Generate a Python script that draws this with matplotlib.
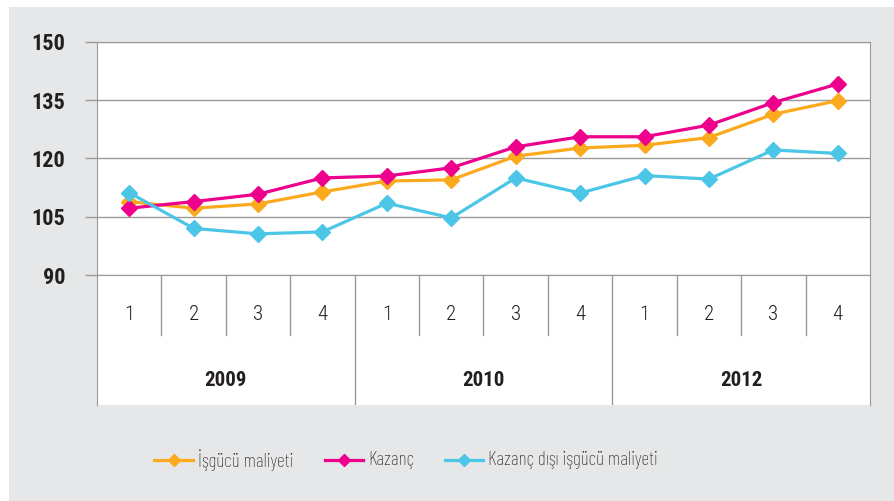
import matplotlib
matplotlib.use("Agg")
import matplotlib.pyplot as plt
from matplotlib import font_manager
from matplotlib.lines import Line2D

# === DATA ===
quarters = ["1", "2", "3", "4"] * 3
years = ["2009", "2010", "2012"]
labour_cost = [108.9, 107.2, 108.3, 111.4, 114.2, 114.5, 120.6, 122.7, 123.4, 125.4, 131.4, 134.9]
earnings = [107.2, 108.9, 110.8, 115.0, 115.5, 117.6, 123.0, 125.6, 125.6, 128.6, 134.4, 139.2]
non_earnings = [111.2, 102.0, 100.6, 101.1, 108.5, 104.7, 115.0, 111.1, 115.6, 114.7, 122.2, 121.3]
series_names = ["İşgücü maliyeti", "Kazanç", "Kazanç dışı işgücü maliyeti"]

# === STYLE ===
BG = "#e6e7e8"
GRID = "#9a9a9a"
TXT = "#231f20"
COLORS = ["#fba91d", "#ec008c", "#4cc6e6"]

# pick a condensed font (Helvetica Condensed look-alike)
have = {f.name for f in font_manager.fontManager.ttflist}
prefs = ["Roboto Condensed", "Fira Sans Condensed", "PT Sans Narrow",
         "Liberation Sans Narrow", "Archivo Narrow", "Asap Condensed"]
FONT = [p for p in prefs if p in have][:1] + ["DejaVu Sans"]
plt.rcParams["font.family"] = FONT
# narrower face for the legend
LEG_FONT = [p for p in ["Barlow Condensed"] if p in have] + FONT

W, H = 894, 501
fig = plt.figure(figsize=(W / 100, H / 100), dpi=100, facecolor="white")

# gray panel
panel = fig.add_axes([9 / W, 0, 1 - 9 / W, 1 - 7 / H])
panel.set_facecolor(BG)
panel.set_xticks([])
panel.set_yticks([])
for s in panel.spines.values():
    s.set_visible(False)

x0, x1 = 97 / W, 870 / W
n = len(quarters)

# === CATEGORY TABLE ===
tab = fig.add_axes([x0, 1 - 405 / H, x1 - x0, (405 - 275) / H])
tab.set_xlim(-0.5, n - 0.5)
tab.set_ylim(0, 130)
tab.set_xticks([])
tab.set_yticks([])
tab.set_facecolor("white")
for k in ["top", "bottom"]:
    tab.spines[k].set_visible(False)
for k in ["left", "right"]:
    tab.spines[k].set_color(GRID)
for i in range(1, n):
    top = 0 if i % 4 == 0 else 70
    tab.plot([i - 0.5, i - 0.5], [top, 130], color=GRID, linewidth=1)
for i, q in enumerate(quarters):
    tab.text(i, 90, q, ha="center", va="center", fontsize=15, color=TXT,
             fontweight="light")
for j, y in enumerate(years):
    tab.text(4 * j + 1.5, 25, y, ha="center", va="center", fontsize=15,
             fontweight="bold", color=TXT)

# === LINES ===
ax = fig.add_axes([x0, 1 - 275 / H, x1 - x0, (275 - 42) / H])
ax.set_zorder(3)
ax.set_facecolor("white")
ax.set_xlim(-0.5, n - 0.5)
ax.set_ylim(90, 150)
ax.set_yticks([90, 105, 120, 135, 150])
ax.tick_params(axis="y", length=9, color=GRID, width=1, pad=14, labelsize=16)
for lab in ax.get_yticklabels():
    lab.set_fontweight("bold")
    lab.set_color(TXT)
ax.set_xticks([])
ax.grid(axis="y", color=GRID, linewidth=1)
for k in ["top", "right", "left", "bottom"]:
    ax.spines[k].set_color(GRID)

xs = list(range(n))
for vals, c in zip([labour_cost, earnings, non_earnings], COLORS):
    ax.plot(xs, vals, color=c, linewidth=2.3, marker="D", markersize=8.5,
            markeredgecolor=c, zorder=3, clip_on=False)

# === LEGEND (placed by hand like the original) ===
leg_y = 1 - 460 / H
for name, c, (a, b) in zip(series_names, COLORS, [(154, 193), (325, 363), (445, 483)]):
    fig.add_artist(Line2D([a / W, b / W], [leg_y, leg_y], color=c, linewidth=2.3,
                          transform=fig.transFigure))
    fig.add_artist(Line2D([(a + b) / 2 / W], [leg_y], color=c, marker="D",
                          markersize=6.5, transform=fig.transFigure))
    fig.text((b + 5) / W, leg_y, name, va="center", ha="left", fontsize=14,
             color=TXT, family=LEG_FONT, fontweight="light")

fig.savefig("out.png", dpi=100, facecolor="white")
